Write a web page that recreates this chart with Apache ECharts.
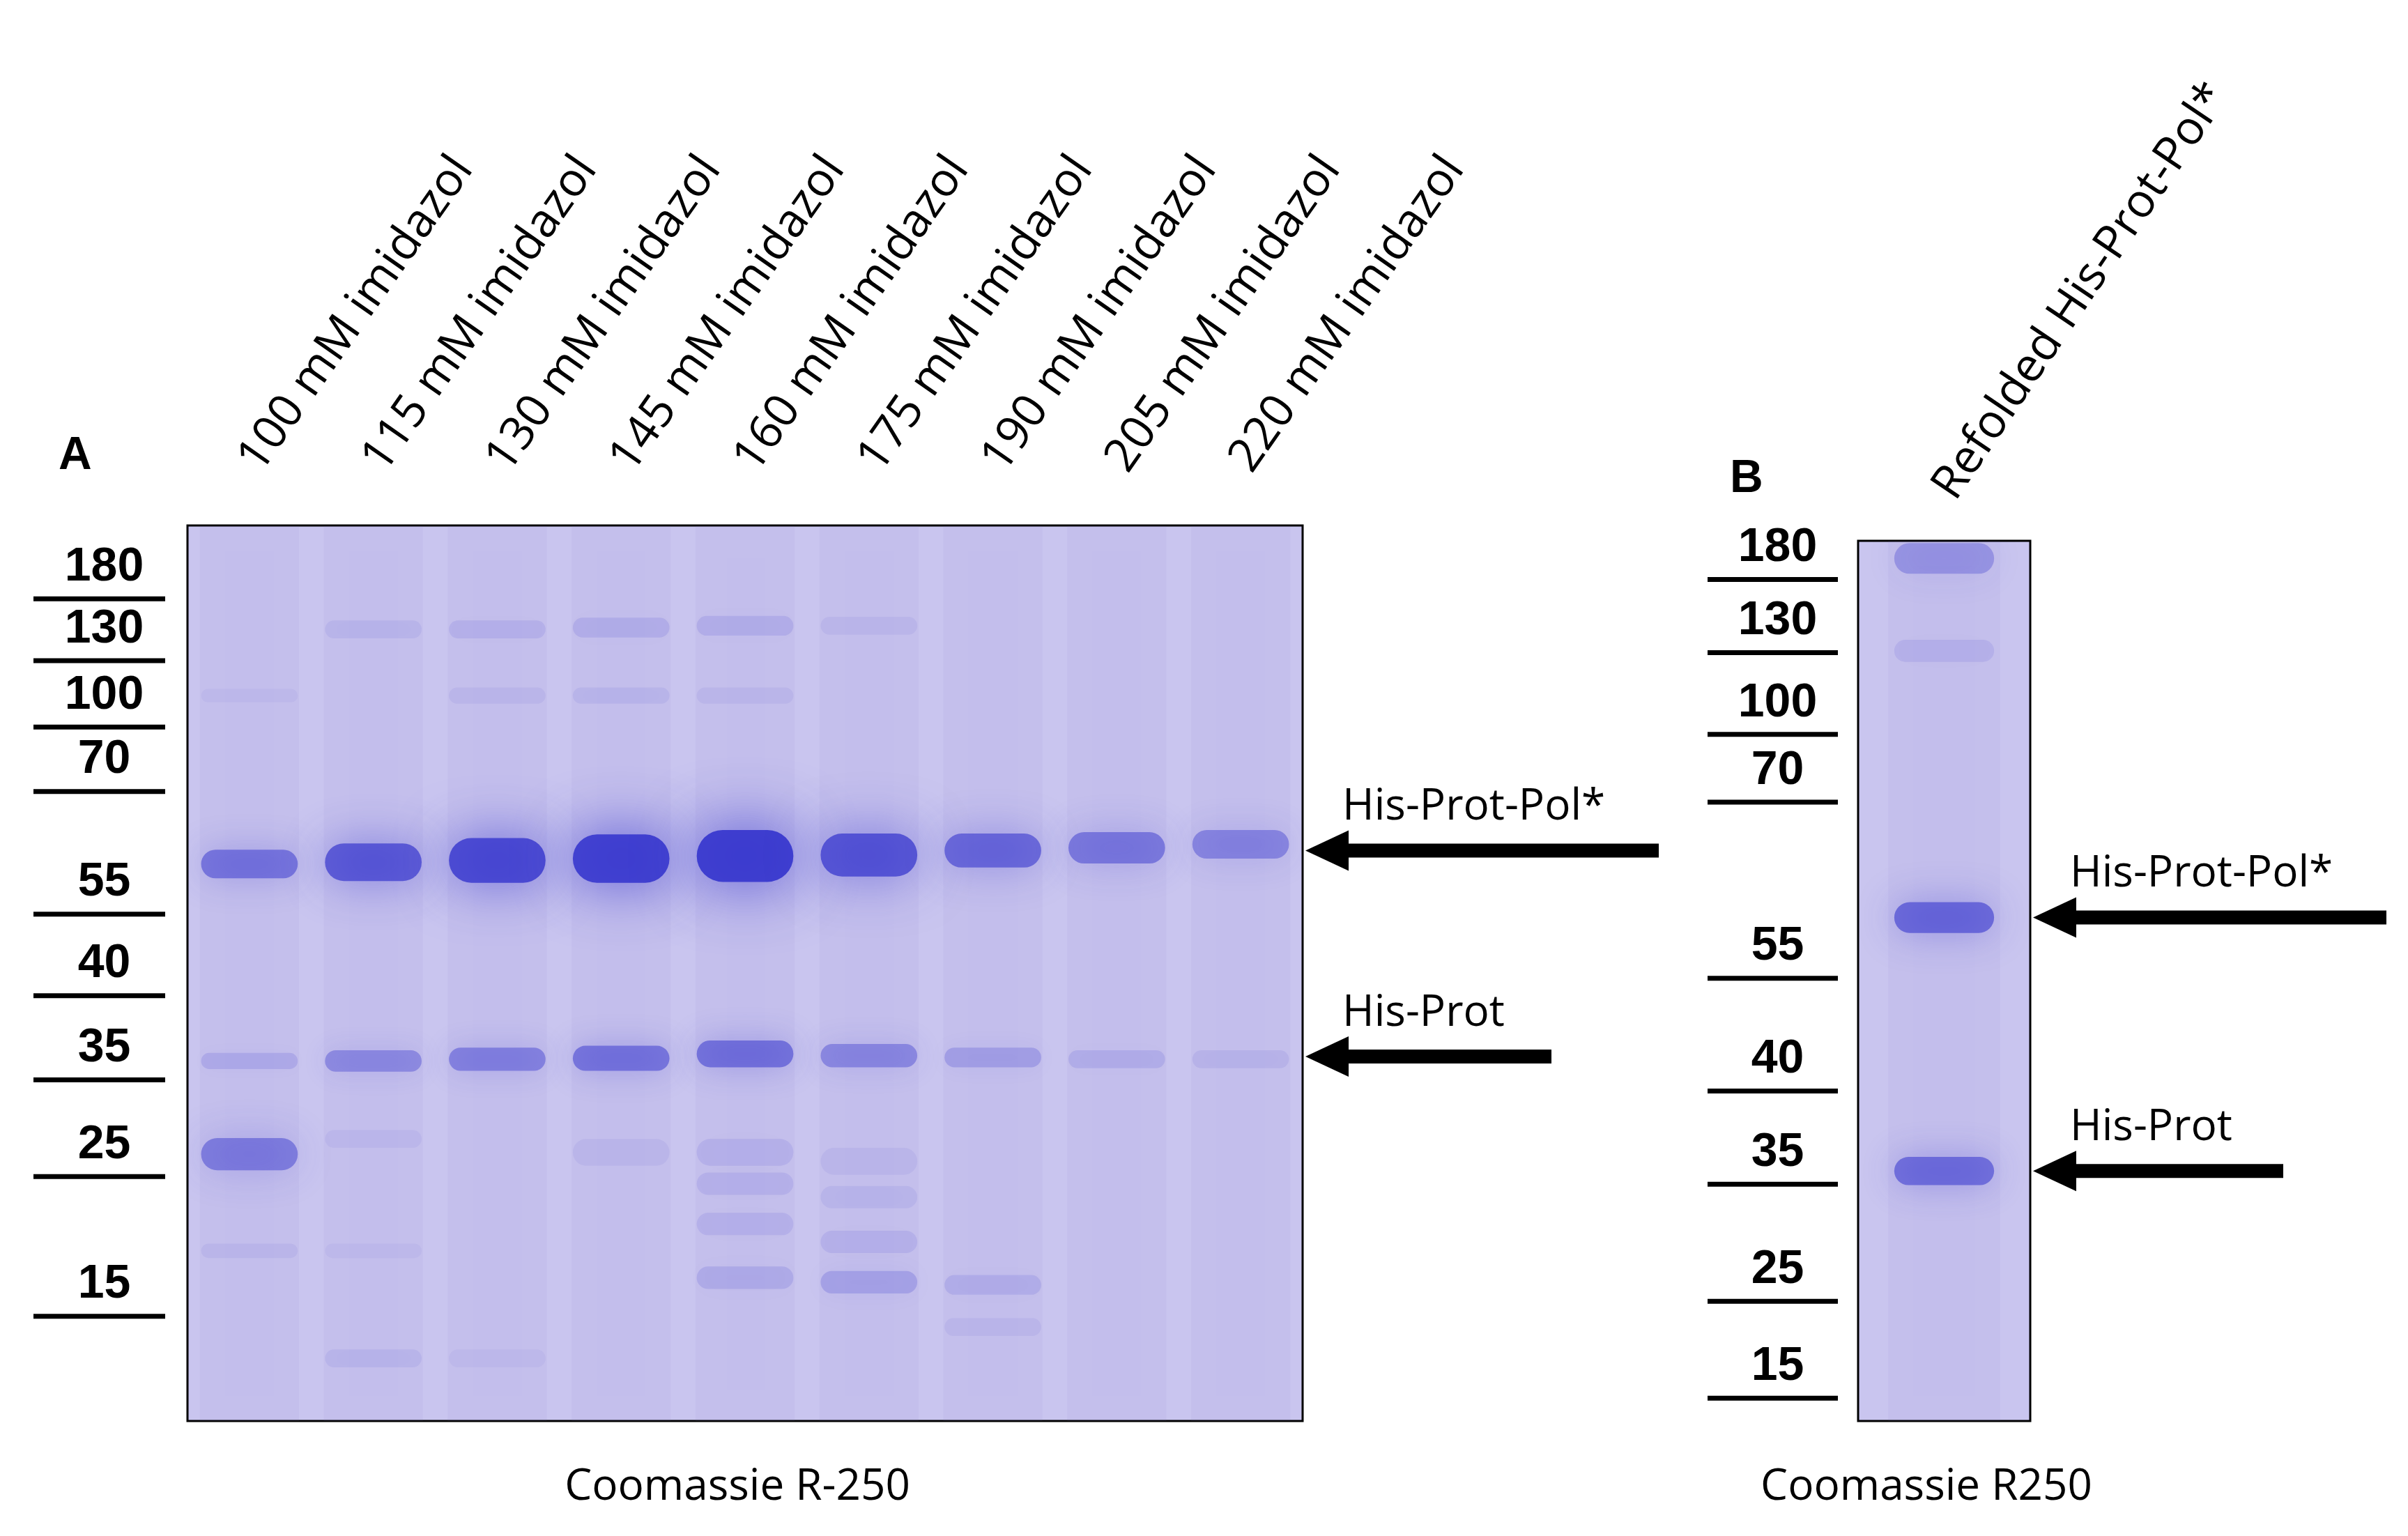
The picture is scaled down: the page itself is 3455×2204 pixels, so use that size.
<!DOCTYPE html>
<html><head><meta charset="utf-8">
<script src="https://cdn.jsdelivr.net/npm/echarts@6/dist/echarts.min.js"></script>
<style>html,body{margin:0;padding:0;background:#fff}#c{width:3455px;height:2204px}</style>
</head><body><div id="c"></div>
<script>
// ---- data ----
const lanesA = ['100 mM imidazol','115 mM imidazol','130 mM imidazol','145 mM imidazol','160 mM imidazol','175 mM imidazol','190 mM imidazol','205 mM imidazol','220 mM imidazol'];
const lanesB = ['Refolded His-Prot-Pol*'];
// ladder: [kDa label, migration (% of gel height from top)]
const ladderLabelsA = ['180','130','100','70','55','40','35','25','15'];
const ladderPosA = [8.2,15.1,22.5,29.7,43.4,52.5,61.9,72.7,88.3];
const ladderLabelsB = ['180','130','100','70','55','40','35','25','15'];
const ladderPosB = [4.4,12.7,22.0,29.7,49.7,62.5,73.1,86.4,97.4];
// bands: [lane, migration, intensity 0-1, thickness %]
const bandsA = [
 [0,37.8,0.5,3.2],[1,37.6,0.68,4.2],[2,37.4,0.8,5],[3,37.2,0.88,5.4],[4,36.9,0.9,5.8],[5,36.8,0.72,4.8],[6,36.3,0.58,3.8],[7,36.0,0.48,3.5],[8,35.6,0.4,3.2],
 [0,59.8,0.15,1.8],[1,59.8,0.36,2.4],[2,59.6,0.42,2.6],[3,59.5,0.5,2.8],[4,59.0,0.52,3],[5,59.2,0.38,2.6],[6,59.4,0.22,2.2],[7,59.6,0.13,2],[8,59.6,0.09,2],
 [0,70.2,0.45,3.6],[1,68.5,0.06,2],[3,70,0.07,3],[4,70,0.1,3],[5,71,0.07,3],
 [1,11.6,0.08,2],[2,11.6,0.1,2],[3,11.4,0.12,2.2],[4,11.2,0.12,2.2],[5,11.2,0.07,2],
 [0,19,0.05,1.5],[2,19,0.07,1.8],[3,19,0.08,1.8],[4,19,0.07,1.8],
 [4,73.5,0.1,2.5],[4,78,0.1,2.5],[4,84,0.14,2.5],[5,75,0.08,2.5],[5,80,0.1,2.5],[5,84.5,0.2,2.5],[6,84.8,0.13,2.2],[6,89.5,0.07,2],
 [0,81,0.07,1.6],[1,81,0.05,1.6],[1,93,0.08,2],[2,93,0.05,2]
];
const bandsB = [[0,42.8,0.58,3.5],[0,71.6,0.55,3.2],[0,12.5,0.1,2.5],[0,2,0.3,3.5]];
// arrows: label, migration, length
const arrowLabelsA = ['His-Prot-Pol*','His-Prot'];
const arrowPosA = [36.3,59.3];
const arrowLenA = [230,160];
const arrowLabelsB = ['His-Prot-Pol*','His-Prot'];
const arrowPosB = [42.8,71.6];
const arrowLenB = [230,163];

const S = 3455/1568;
const px = v => Math.round(v*S);
const FONT = '"Open Sans", "Liberation Sans", sans-serif';

function bandRender(frac){ return function(params, api){
  const c = api.coord([api.value(0), api.value(1)]);
  const bw = api.size([1,0])[0]*frac;
  const h = api.size([0, api.value(3)])[1];
  const a = api.value(2);
  return {type:'rect', shape:{x:c[0]-bw/2, y:c[1]-h/2, width:bw, height:h, r:h/2},
    style:{fill:'rgba(52,52,205,'+a+')', shadowBlur:h*1.2, shadowColor:'rgba(52,52,205,'+a+')'}};
};}
function laneRender(frac){ return function(params, api){
  const c = api.coord([api.value(0), 0]);
  const bw = api.size([1,0])[0]*frac;
  const h = api.size([0,100])[1];
  return {type:'rect', shape:{x:c[0]-bw/2, y:c[1], width:bw, height:h},
    style:{fill:'rgba(120,100,210,0.06)', shadowBlur:30, shadowColor:'rgba(120,100,210,0.06)'}};
};}
function ladderRender(labels){ return function(params, api){
  const y = api.coord([0, api.value(1)])[1];
  const x0 = api.coord([0, 0])[0], x1 = api.coord([1, 0])[0];
  return {type:'group', children:[
    {type:'line', shape:{x1:x0,y1:y,x2:x1,y2:y}, style:{stroke:'#000', lineWidth:px(3.3)}},
    {type:'text', x:(x0+x1)/2+px(3), y:y-px(5), style:{text:labels[params.dataIndex], fill:'#000', font:'bold '+px(31)+'px "Liberation Sans", Arial, sans-serif', textAlign:'center', textVerticalAlign:'bottom'}}
  ]};
};}
function arrowRender(labels){
  return function(params, api){
    const cs = params.coordSys;
    const y = api.coord([0, api.value(1)])[1];
    const x0 = cs.x + cs.width + px(2), L = px(api.value(2));
    return {type:'group', children:[
      {type:'polygon', shape:{points:[[x0,y],[x0+px(28),y-px(13)],[x0+px(28),y+px(13)]]}, style:{fill:'#000'}},
      {type:'rect', shape:{x:x0+px(26), y:y-px(4.5), width:L-px(26), height:px(9)}, style:{fill:'#000'}},
      {type:'text', x:x0+px(24), y:y-px(14), style:{text:labels[params.dataIndex], fill:'#000', font:px(28)+'px '+FONT, textVerticalAlign:'bottom'}}
    ]};
  };
}

const grids = [
  {left:px(122), top:px(342), width:px(726), height:px(583), show:true, backgroundColor:'#c9c5ef', borderColor:'#000', borderWidth:px(1.5)},
  {left:px(22), top:px(342), width:px(86), height:px(583)},
  {left:px(1210), top:px(352), width:px(112), height:px(573), show:true, backgroundColor:'#c9c5ef', borderColor:'#000', borderWidth:px(1.5)},
  {left:px(1112), top:px(352), width:px(85), height:px(573)}
];
const yAx = i => ({gridIndex:i, type:'value', min:0, max:100, inverse:true, show:false});
const option = {
  animation:false,
  backgroundColor:'#fff',
  title:[
    {text:'A', left:px(36), top:px(280), textStyle:{fontSize:px(30), fontWeight:'bold', fontFamily:'"Liberation Sans", Arial', color:'#000'}},
    {text:'B', left:px(1124), top:px(295), textStyle:{fontSize:px(30), fontWeight:'bold', fontFamily:'"Liberation Sans", Arial', color:'#000'}},
    {text:'Coomassie R-250', left:px(478), top:px(952), textAlign:'center', textStyle:{fontSize:px(28), fontWeight:'normal', fontFamily:FONT, color:'#000'}},
    {text:'Coomassie R250', left:px(1252), top:px(952), textAlign:'center', textStyle:{fontSize:px(28), fontWeight:'normal', fontFamily:FONT, color:'#000'}}
  ],
  grid:grids,
  xAxis:[
    {gridIndex:0, type:'category', data:lanesA, position:'top', axisLine:{show:false}, axisTick:{show:false},
      axisLabel:{rotate:55, margin:px(38), fontSize:px(30.5), fontFamily:FONT, color:'#000', interval:0}},
    {gridIndex:1, type:'value', min:0, max:1, show:false},
    {gridIndex:2, type:'category', data:lanesB, position:'top', axisLine:{show:false}, axisTick:{show:false},
      axisLabel:{rotate:56, margin:px(30), fontSize:px(30.5), fontFamily:FONT, color:'#000', interval:0}},
    {gridIndex:3, type:'value', min:0, max:1, show:false}
  ],
  yAxis:[yAx(0), yAx(1), yAx(2), yAx(3)],
  series:[
    {type:'custom', xAxisIndex:0, yAxisIndex:0, data:lanesA.map((d,i)=>[i]), renderItem:laneRender(0.8), silent:true},
    {type:'custom', xAxisIndex:0, yAxisIndex:0, data:bandsA, renderItem:bandRender(0.78), clip:true},
    {type:'custom', xAxisIndex:1, yAxisIndex:1, data:ladderPosA.map(v=>[0,v]), renderItem:ladderRender(ladderLabelsA), clip:false},
    {type:'custom', xAxisIndex:2, yAxisIndex:2, data:[[0]], renderItem:laneRender(0.65), silent:true},
    {type:'custom', xAxisIndex:2, yAxisIndex:2, data:bandsB, renderItem:bandRender(0.58), clip:true},
    {type:'custom', xAxisIndex:3, yAxisIndex:3, data:ladderPosB.map(v=>[0,v]), renderItem:ladderRender(ladderLabelsB), clip:false},
    {type:'custom', xAxisIndex:0, yAxisIndex:0, data:arrowPosA.map((v,i)=>[0,v,arrowLenA[i]]), renderItem:arrowRender(arrowLabelsA), clip:false},
    {type:'custom', xAxisIndex:2, yAxisIndex:2, data:arrowPosB.map((v,i)=>[0,v,arrowLenB[i]]), renderItem:arrowRender(arrowLabelsB), clip:false}
  ]
};
echarts.init(document.getElementById('c')).setOption(option);
</script></body></html>
